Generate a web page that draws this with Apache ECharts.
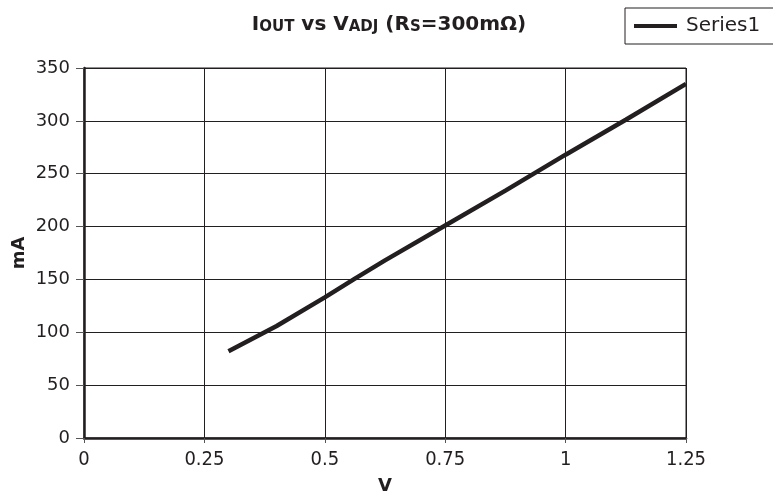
<!DOCTYPE html>
<html><head><meta charset="utf-8">
<script src="https://cdn.jsdelivr.net/npm/echarts@6/dist/echarts.min.js"></script>
<style>html,body{margin:0;padding:0;background:#fff}#c{width:773px;height:494px}</style>
</head><body><div id="c"></div>
<script>
const xVals = [0.30, 0.40, 0.50, 0.56, 0.625, 0.75, 0.875, 1.0, 1.125, 1.25];
const yVals = [82, 106, 133, 150, 168, 201, 234, 268, 301, 335];
const xTicks = [0, 0.25, 0.5, 0.75, 1, 1.25];
const seriesName = 'Series1';

const chart = echarts.init(document.getElementById('c'));
const F = 'DejaVu Sans, Liberation Sans, Arial, sans-serif';
const FC = 'DejaVu Sans Condensed, Liberation Sans Narrow, Liberation Sans, Arial, sans-serif';
chart.setOption({
  animation: false,
  backgroundColor: '#fff',
  title: {
    text: '{a|I}{s|OUT}{a| vs V}{s|ADJ}{a| (R}{s|S}{a|=300mΩ)}',
    left: 384, top: 10, textAlign: 'center',
    textStyle: {
      rich: {
        a: {fontFamily: F, fontWeight: 'bold', fontSize: 20, color: '#231f20'},
        s: {fontFamily: F, fontWeight: 'bold', fontSize: 15, color: '#231f20', verticalAlign: 'bottom', padding:[5,0,0,0]}
      }
    }
  },
  legend: {
    left: 625, top: 8,
    borderColor: '#231f20', borderWidth: 1, borderRadius: 0,
    padding: [8, 30, 8, 9],
    itemWidth: 43, itemHeight: 4, icon: 'rect', itemGap: 6,
    textStyle: {fontFamily: F, fontSize: 20, color: '#231f20', padding:[0,0,0,4]},
    data: [seriesName]
  },
  grid: {left: 84, right: 87, top: 68, bottom: 56, containLabel: false, outerBoundsMode: 'none',
         show: true, borderColor: '#231f20', borderWidth: 1},
  xAxis: {
    type: 'value', min: 0, max: 1.25, interval: 0.25,
    name: 'V', nameLocation: 'middle', nameGap: 39, nameMoveOverlap: false,
    nameTextStyle: {fontFamily: F, fontWeight: 'bold', fontSize: 18, color: '#231f20'},
    axisLine: {show: true, onZero: false, lineStyle: {color: '#231f20', width: 2.5}},
    axisTick: {show: true, inside: false, length: 5, lineStyle: {color: '#555', width: 1}},
    axisLabel: {fontFamily: FC, fontSize: 20, color: '#231f20', margin: 12,
      formatter: v => { const t = xTicks.find(k => Math.abs(k - v) < 1e-9); return t === undefined ? '' : String(t); }},
    splitLine: {show: true, lineStyle: {color: '#231f20', width: 1}}
  },
  yAxis: {
    type: 'value', min: 0, max: 350, interval: 50,
    name: 'mA', nameLocation: 'middle', nameGap: 56, nameRotate: 90, nameMoveOverlap: false,
    nameTextStyle: {fontFamily: F, fontWeight: 'bold', fontSize: 18, color: '#231f20'},
    axisLine: {show: true, onZero: false, lineStyle: {color: '#231f20', width: 2.5}},
    axisTick: {show: true, inside: false, length: 8, lineStyle: {color: '#555', width: 1}},
    axisLabel: {fontFamily: F, fontSize: 18, color: '#231f20', margin: 14},
    splitLine: {show: true, lineStyle: {color: '#231f20', width: 1}}
  },
  series: [{
    name: seriesName, type: 'line', showSymbol: false, symbol: 'none',
    data: xVals.map((x, i) => [x, yVals[i]]),
    lineStyle: {color: '#231f20', width: 4.5},
    itemStyle: {color: '#231f20'}
  }]
});
</script></body></html>
